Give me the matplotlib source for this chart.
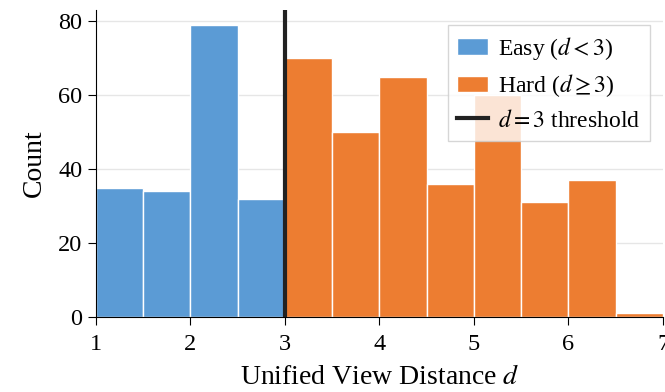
import numpy as np
import matplotlib.pyplot as plt

plt.rcParams['font.family'] = 'serif'
plt.rcParams['font.serif'] = ['Liberation Serif', 'DejaVu Serif']
plt.rcParams['mathtext.fontset'] = 'stix'

easy_edges = [1.0, 1.5, 2.0, 2.5, 3.0]
easy_counts = [35, 34, 79, 32]
hard_edges = [3.0, 3.5, 4.0, 4.5, 5.0, 5.5, 6.0, 6.5, 7.0]
hard_counts = [70, 50, 65, 36, 60, 31, 37, 1]
threshold = 3

blue = '#5B9BD5'
orange = '#ED7D31'

fig = plt.figure(figsize=(6.65, 3.92), dpi=100)
ax = fig.add_axes([0.144, 0.191, 0.853, 0.783])

ax.hist(easy_edges[:-1], bins=easy_edges, weights=easy_counts, color=blue,
        edgecolor='white', linewidth=1, label=r'Easy ($d < 3$)', zorder=2)
ax.hist(hard_edges[:-1], bins=hard_edges, weights=hard_counts, color=orange,
        edgecolor='white', linewidth=1, label=r'Hard ($d \geq 3$)', zorder=2)
ax.axvline(threshold, color='#222222', linewidth=3, label=r'$d = 3$ threshold', zorder=3)

ax.set_xlim(1, 7)
ax.set_ylim(0, 83)
ax.set_yticks([0, 20, 40, 60, 80])
ax.grid(axis='y', color='#e6e6e6', linewidth=1, zorder=0)
ax.set_axisbelow(True)
for s in ['top', 'right']:
    ax.spines[s].set_visible(False)
ax.tick_params(labelsize=17.5, length=6)
ax.tick_params(axis='x', pad=6)
ax.set_xlabel(r'Unified View Distance $d$', fontsize=20, labelpad=7)
ax.set_ylabel('Count', fontsize=20, labelpad=8)
ax.legend(loc='upper right', bbox_to_anchor=(0.998, 0.99), fontsize=17,
          fancybox=False, edgecolor='#cccccc', handlelength=1.3,
          handletextpad=0.45, borderpad=0.4, labelspacing=0.45)

fig.savefig('out.png', dpi=100)
